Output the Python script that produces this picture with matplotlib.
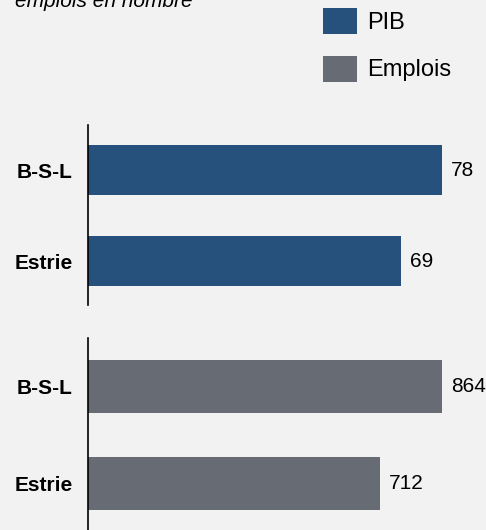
import matplotlib.pyplot as plt

plt.rcParams['font.family'] = ['Liberation Sans', 'DejaVu Sans']

# Données
regions = ['B-S-L', 'Estrie']
pib = [78, 69]
emplois = [864, 712]
sous_titre = 'emplois en nombre'

couleur_pib = '#26517c'
couleur_emplois = '#676c74'
fond = '#f2f2f2'

fig = plt.figure(figsize=(4.86, 5.30), dpi=100, facecolor=fond)

# Deux panneaux : PIB en haut, emplois en bas
ax1 = fig.add_axes([0.1811, 0.4245, 0.7284, 0.3396])
ax2 = fig.add_axes([0.1811, -0.005, 0.7284, 0.3673])


def panneau(ax, valeurs, couleur, etiquette, bas):
    pos = range(len(regions))
    barres = ax.barh(pos, valeurs, height=0.55, color=couleur, label=etiquette)
    ax.set_xlim(0, max(valeurs))
    ax.set_ylim(bas, -0.5)
    ax.set_yticks(list(pos))
    ax.set_yticklabels(regions, fontsize=15, fontweight='bold')
    ax.tick_params(axis='y', length=0, pad=11)
    ax.set_xticks([])
    ax.set_facecolor(fond)
    for cote in ['top', 'right', 'bottom']:
        ax.spines[cote].set_visible(False)
    ax.spines['left'].set_linewidth(1.2)
    ax.spines['left'].set_color('black')
    for b, v in zip(barres, valeurs):
        ax.annotate(str(v), (b.get_width(), b.get_y() + b.get_height() / 2),
                    xytext=(6.5, 0), textcoords='offset points',
                    va='center', ha='left', fontsize=15, annotation_clip=False)
    return barres


b1 = panneau(ax1, pib, couleur_pib, 'PIB', 1.48)
b2 = panneau(ax2, emplois, couleur_emplois, 'Emplois', 1.507)

fig.text(15 / 486, 1 - 7 / 530, sous_titre, fontsize=15, style='italic',
         ha='left', va='baseline')

fig.legend(handles=[b1, b2], loc='upper left',
           bbox_to_anchor=(323 / 486, 1 - 8 / 530), frameon=False,
           fontsize=17, handlelength=1.42, handleheight=1.32,
           handletextpad=0.46, labelspacing=0.91, borderpad=0, borderaxespad=0)

fig.savefig('out.png', dpi=100, facecolor=fond)
